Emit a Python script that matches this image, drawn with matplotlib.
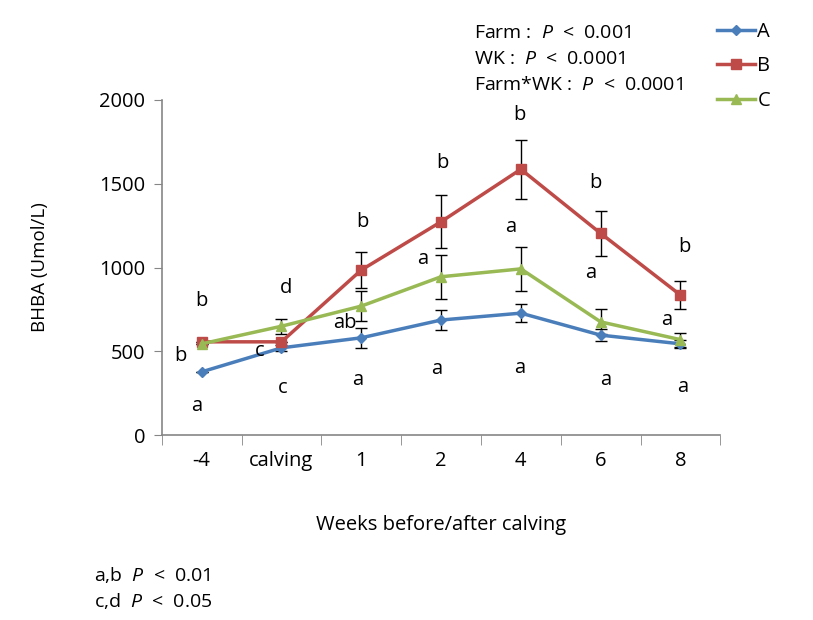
# BHBA by farm across weeks around calving
import matplotlib
matplotlib.use('Agg')
import matplotlib.pyplot as plt
import numpy as np

# ---------------- data ----------------
weeks = ['-4', 'calving', '1', '2', '4', '6', '8']

farm_a = [378, 521, 581, 687, 728, 597, 545]
farm_a_err = [0, 20, 60, 62, 55, 38, 22]

farm_b = [557, 557, 985, 1273, 1586, 1204, 836]
farm_b_err = [0, 0, 106, 158, 175, 136, 84]

farm_c = [545, 650, 770, 945, 992, 676, 570]
farm_c_err = [0, 45, 90, 130, 130, 75, 42]

# significance letters: (week index, x offset, y value, text)
letters = [
    (0, 0.0, 800, 'b'), (0, -0.27, 470, 'b'), (0, -0.06, 175, 'a'),
    (1, 0.06, 880, 'd'), (1, -0.27, 500, 'c'), (1, 0.02, 280, 'c'),
    (2, 0.02, 1270, 'b'), (2, -0.2, 670, 'ab'), (2, -0.04, 330, 'a'),
    (3, 0.02, 1625, 'b'), (3, -0.23, 1050, 'a'), (3, -0.05, 395, 'a'),
    (4, -0.02, 1910, 'b'), (4, -0.13, 1240, 'a'), (4, -0.02, 400, 'a'),
    (5, -0.07, 1505, 'b'), (5, -0.12, 965, 'a'), (5, 0.06, 330, 'a'),
    (6, 0.05, 1125, 'b'), (6, -0.17, 690, 'a'), (6, 0.03, 290, 'a'),
]

stats_text = [r'Farm :  $\mathit{P}$  <  0.001',
              r'WK :  $\mathit{P}$  <  0.0001',
              r'Farm*WK :  $\mathit{P}$  <  0.0001']
foot_text = [r'a,b  $\mathit{P}$  <  0.01', r'c,d  $\mathit{P}$  <  0.05']

# ---------------- plot ----------------
plt.rcParams['font.family'] = ['Open Sans', 'DejaVu Sans']
plt.rcParams['mathtext.fontset'] = 'custom'
plt.rcParams['mathtext.it'] = 'Open Sans:italic'
plt.rcParams['mathtext.rm'] = 'Open Sans'

fig = plt.figure(figsize=(8.13, 6.2), dpi=100)
ax = fig.add_axes([0.199, 0.298, 0.687, 0.541])

x = np.arange(len(weeks))
series = [
    ('A', farm_a, farm_a_err, '#4A7EBB', 'D', 5),
    ('B', farm_b, farm_b_err, '#BE4B48', 's', 7),
    ('C', farm_c, farm_c_err, '#98B954', '^', 7),
]
handles = []
for name, vals, err, col, mk, ms in series:
    ax.errorbar(x, vals, yerr=err, fmt='none', ecolor='black',
                elinewidth=1, capsize=4, capthick=1, zorder=2)
    h, = ax.plot(x, vals, color=col, lw=2.5, marker=mk, markersize=ms,
                 markerfacecolor=col, markeredgecolor=col, zorder=3, label=name)
    handles.append(h)

for i, dx, yv, t in letters:
    ax.text(i + dx, yv, t, ha='center', va='center', fontsize=14.5)

ax.set_xlim(-0.5, len(weeks) - 0.5)
ax.set_ylim(0, 2000)
ax.set_yticks([0, 500, 1000, 1500, 2000])
ax.set_xticks(x)
ax.set_xticklabels(weeks)
ax.set_xticks(np.arange(len(weeks) + 1) - 0.5, minor=True)
ax.tick_params(axis='x', which='major', length=0, pad=11, labelsize=14.5)
ax.tick_params(axis='x', which='minor', length=7, color='#868686', direction='out')
ax.tick_params(axis='y', length=6, color='#868686', direction='out', labelsize=14.5, pad=6)

for s in ['top', 'right']:
    ax.spines[s].set_visible(False)
for s in ['left', 'bottom']:
    ax.spines[s].set_color('#868686')
    ax.spines[s].set_linewidth(1.2)

ax.set_ylabel('BHBA (Umol/L)', fontsize=13.5, labelpad=36)
ax.set_xlabel('Weeks before/after calving', fontsize=14.5, labelpad=32)

fig.legend(handles=handles, loc='upper left', bbox_to_anchor=(0.872, 0.978),
           frameon=False, fontsize=14.5, handlelength=1.9, labelspacing=0.72,
           handletextpad=0.1, borderaxespad=0)

for k, t in enumerate(stats_text):
    fig.text(474 / 813, 1 - (33 + 26 * k) / 620, t, fontsize=14,
             ha='left', va='center')
for k, t in enumerate(foot_text):
    fig.text(94 / 813, 1 - (575 + 26 * k) / 620, t, fontsize=14,
             ha='left', va='center')

fig.savefig('out.png', dpi=100)
